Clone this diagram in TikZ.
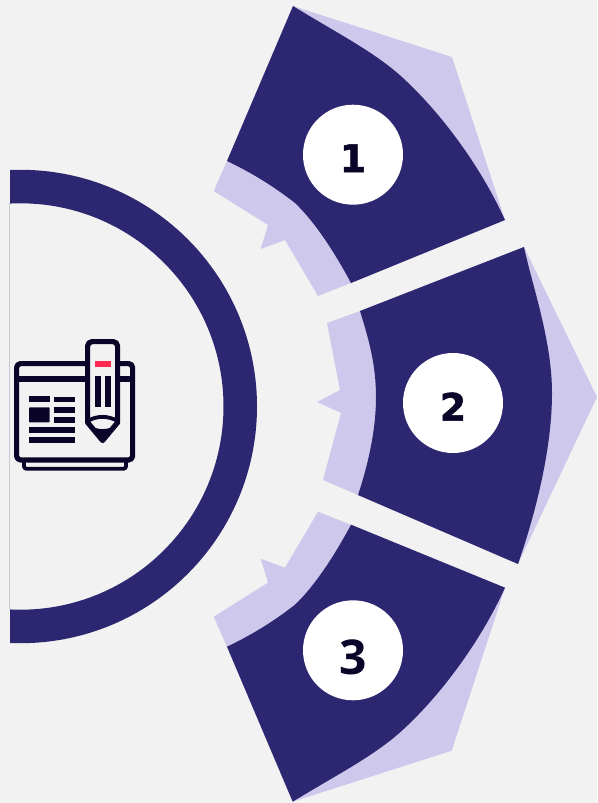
\documentclass[tikz,border=0pt]{standalone}
\usepackage{fontspec}
\setmainfont{DejaVu Sans}
\newfontfamily\heavydigit[FakeBold=1.4]{DejaVu Sans Bold}
\newfontfamily\plaindigit{Open Sans Bold}
\definecolor{bgc}{HTML}{F2F2F2}
\definecolor{dark}{HTML}{2C2770}
\definecolor{lite}{HTML}{CEC9EC}
\definecolor{ink}{HTML}{0A0428}
\definecolor{accent}{HTML}{FF2850}
\tikzset{
  badge/.style={circle,fill=white,minimum size=100pt,inner sep=0pt,text=ink},
  inkline/.style={draw=ink,line width=5.2pt,line join=round},
  inkfill/.style={fill=ink,draw=none},
}
\begin{document}
\begin{tikzpicture}[x=1pt,y=-1pt]
\useasboundingbox (0,0) rectangle (597,803);
\fill[bgc] (0,0) rectangle (597,803);
% ring
\draw[color={rgb,255:red,200;green,200;blue,212},line width=.8pt] (9.6,203) -- (9.6,609);
\begin{scope}
\clip (10,0) rectangle (597,803);
\fill[dark,even odd rule] (20.3,406.5) circle[radius=236.7] (20.3,406.5) circle[radius=203.2];
\end{scope}
% petal 1
\fill[lite] (293,6) -- (452,57) -- (505,220) -- (351,283) -- (318,296) -- (285,240) -- (260.7,249) -- (268,225) -- (213.7,191) -- (227,161) -- cycle;
\fill[dark] (293,6) .. controls (335,32) and (375,52) .. (403,78) .. controls (440,112) and (480,165) .. (505,220)
  -- (351,283) .. controls (335,253) and (315,222) .. (295,203) .. controls (272,185) and (250,172) .. (227,161) -- cycle;
% petal 2
\fill[lite] (524,247) -- (597,397) -- (518,564) -- (358,495) -- (323,480) -- (341,413) -- (317,402) -- (340,390) -- (327,323) -- (360,311) -- cycle;
\fill[dark] (524,247) .. controls (532,285) and (552,340) .. (552,393) .. controls (552,450) and (535,515) .. (518,564)
  -- (358,495) .. controls (368,465) and (376,430) .. (376,397) .. controls (376,365) and (369,340) .. (360,311) -- cycle;
% petal 3
\fill[lite] (292.7,801.7) -- (451.7,750.7) -- (505,587.7) -- (351,524.7) -- (318,511.7) -- (285,567.7) -- (260.7,558.7) -- (268,582.7) -- (213.7,616.7) -- (227,646.7) -- cycle;
\fill[dark] (292.7,801.7) .. controls (335,775.7) and (375,755.7) .. (403,729.7) .. controls (440,695.7) and (480,642.7) .. (505,587.7)
  -- (351,524.7) .. controls (335,554.7) and (315,585.7) .. (295,604.7) .. controls (272,622.7) and (250,635.7) .. (227,646.7) -- cycle;
% badges
\node[badge] (one) at (353,154.7) {\raisebox{0pt}[34.6pt][0pt]{\fontsize{38}{38}\selectfont\heavydigit 1}};
\node[badge] (two) at (453,403) {\raisebox{0pt}[35.4pt][0pt]{\fontsize{38}{38}\selectfont\heavydigit 2}};
\node[badge] (three) at (353,650.3) {\raisebox{0pt}[48.4pt][0pt]{\fontsize{48}{48}\selectfont\plaindigit 3}};
% icon: base and window
\draw[inkline,line width=3.8pt,rounded corners=2.5pt] (24,460) -- (24,468.8) -- (126,468.8) -- (126,460);
\draw[inkline,fill=bgc,rounded corners=4pt] (16.6,363.6) rectangle (132.6,460);
\draw[inkline] (16.6,379) -- (132.6,379);
\fill[inkfill] (29,396) rectangle (50,402);
\fill[inkfill] (54.3,396.7) rectangle (75,402);
\fill[inkfill,rounded corners=.8pt] (29,407.3) rectangle (49.7,422.3);
\fill[inkfill] (54.3,407.3) rectangle (75,413);
\fill[inkfill] (54.3,417.3) rectangle (75,423);
\fill[inkfill] (29,427) rectangle (75,433);
\fill[inkfill] (29,437) rectangle (75,443);
% icon: pencil
\draw[inkline,fill=bgc,rounded corners=4.5pt] (87.6,341.6) -- (117.6,341.6) [sharp corners] -- (117.6,422.5) -- (102.6,440.5) -- (87.6,422.5) [rounded corners=4.5pt] -- cycle;
\draw[inkline,line width=3.8pt] (87.6,421) .. controls (97,415.5) and (108,415.5) .. (117.6,421);
\fill[inkfill] (95.5,428) .. controls (100,429.5) and (105,429.5) .. (109.7,428) -- (102.6,441) -- cycle;
\fill[accent] (95,361) rectangle (111,367);
\fill[inkfill] (95,376) rectangle (101,407);
\fill[inkfill] (105,376) rectangle (111,407);
\end{tikzpicture}
\end{document}
